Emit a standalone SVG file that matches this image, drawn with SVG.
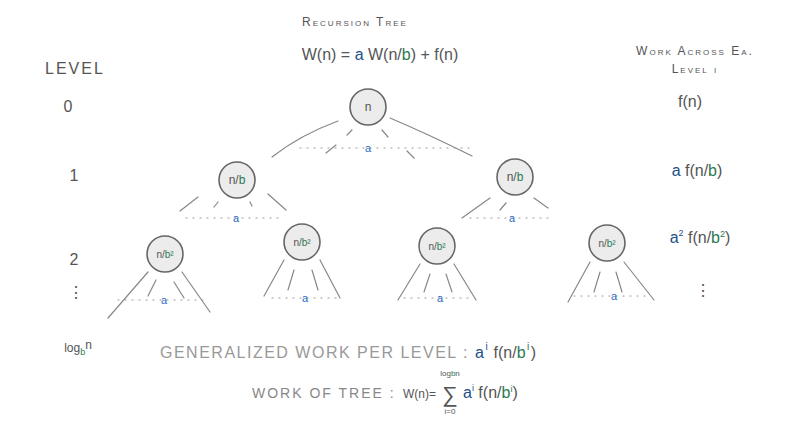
<svg xmlns="http://www.w3.org/2000/svg" width="800" height="435" viewBox="0 0 800 435">
<style>
text{font-family:"Liberation Sans",Arial,sans-serif;fill:#555}
.t{font-size:16px}
.s{font-size:12px}
.bl{fill:#2a6cc0}
.db{fill:#1e4f8a}
.gr{fill:#2b7a50}
.nd{fill:#ececec;stroke:#666;stroke-width:1.6}
.e{stroke:#888;stroke-width:1.2;fill:none;stroke-linecap:round}
.d{stroke:#999;stroke-width:1.2;fill:none;stroke-dasharray:1 6;stroke-linecap:round}
.sc{font-variant:small-caps;letter-spacing:2px}
</style>
<rect width="800" height="435" fill="#fff"/>
<text x="355" y="26" class="s sc" text-anchor="middle">Recursion Tree</text>
<text x="380" y="60" class="t" text-anchor="middle">W(n) = <tspan class="db">a</tspan> W(n/<tspan class="gr">b</tspan>) + f(n)</text>
<text x="45" y="74" class="t sc">LEVEL</text>
<text x="695" y="55" class="s sc" text-anchor="middle">Work Across Ea.</text>
<text x="695" y="73" class="s sc" text-anchor="middle">Level i</text>
<text x="68" y="112" class="t" text-anchor="middle">0</text>
<text x="74" y="181" class="t" text-anchor="middle">1</text>
<text x="74" y="265" class="t" text-anchor="middle">2</text>
<text x="76" y="298" class="t" text-anchor="middle">⋮</text>
<text x="78" y="352" class="s" text-anchor="middle">log<tspan class="gr" font-size="9" dy="3">b</tspan><tspan dy="-6">n</tspan></text>
<text x="690" y="107" class="t" text-anchor="middle">f(n)</text>
<text x="697" y="176" class="t" text-anchor="middle"><tspan class="db">a</tspan> f(n/<tspan class="gr">b</tspan>)</text>
<text x="700" y="243" class="t" text-anchor="middle"><tspan class="db">a<tspan font-size="9" dy="-7">2</tspan></tspan><tspan dy="7"> f(n/</tspan><tspan class="gr">b<tspan font-size="9" dy="-6">2</tspan></tspan><tspan dy="6">)</tspan></text>
<text x="703" y="296" class="t" text-anchor="middle">⋮</text>
<g id="connectors">
<path class="e" d="M338 121 Q300 135 272 157 M390 118 Q430 135 472 156 M352 130 L347 135 M382 130 L388 137 M336 145 L326 153 M407 151 L414 158"/>
<path class="d" d="M300 148 L470 148"/>
<path class="e" d="M198 197 L180 211 M268 194 L286 210 M218 202 L214 207 M250 202 L252 206"/>
<path class="d" d="M186 218 L282 218"/>
<path class="e" d="M490 198 L462 218 M534 198 L548 208 M506 203 L500 210"/>
<path class="d" d="M470 218 L548 218"/>
<path class="e" d="M148 272 L108 318 M182 272 L210 312 M156 280 L148 296 M174 282 L184 298"/>
<path class="d" d="M118 300 L206 300"/>
<path class="e" d="M284 260 L264 296 M320 260 L340 298 M294 270 L288 290 M312 270 L318 290"/>
<path class="d" d="M272 298 L338 298"/>
<path class="e" d="M420 264 L398 300 M454 264 L476 300 M430 274 L424 292 M446 274 L452 292"/>
<path class="d" d="M404 298 L472 298"/>
<path class="e" d="M590 262 L568 302 M624 262 L654 300 M600 272 L594 292 M616 272 L622 292"/>
<path class="d" d="M574 296 L650 296"/>
</g>
<g font-size="11" text-anchor="middle"><text x="368" y="152" class="bl">a</text><text x="236" y="222" class="bl">a</text><text x="512" y="222" class="bl">a</text><text x="164" y="304" class="bl">a</text><text x="305" y="302" class="bl">a</text><text x="440" y="302" class="bl">a</text><text x="614" y="300" class="bl">a</text></g>
<g id="n0"><circle class="nd" cx="368" cy="107" r="18"/><text x="368" y="111" class="s" text-anchor="middle">n</text></g>
<g id="n1"><circle class="nd" cx="237" cy="180" r="18"/><text x="237" y="184" class="s" text-anchor="middle">n/<tspan class="gr">b</tspan></text></g>
<g id="n2"><circle class="nd" cx="515" cy="177" r="18"/><text x="515" y="181" class="s" text-anchor="middle">n/<tspan class="gr">b</tspan></text></g>
<g id="n3"><circle class="nd" cx="165" cy="254" r="18"/><text x="165" y="258" font-size="10" text-anchor="middle">n/<tspan class="gr">b²</tspan></text></g>
<g id="n4"><circle class="nd" cx="302" cy="242" r="18"/><text x="302" y="246" font-size="10" text-anchor="middle">n/<tspan class="gr">b²</tspan></text></g>
<g id="n5"><circle class="nd" cx="437" cy="246" r="18"/><text x="437" y="250" font-size="10" text-anchor="middle">n/<tspan class="gr">b²</tspan></text></g>
<g id="n6"><circle class="nd" cx="607" cy="243" r="18"/><text x="607" y="247" font-size="10" text-anchor="middle">n/<tspan class="gr">b²</tspan></text></g>
<text x="160" y="358" font-size="16" style="fill:#999;letter-spacing:1.5px">GENERALIZED WORK PER LEVEL : <tspan class="db">a<tspan font-size="10" dy="-8">i</tspan></tspan><tspan dy="8" style="fill:#555;letter-spacing:0"> f(n/</tspan><tspan class="gr">b<tspan font-size="10" dy="-8">i</tspan></tspan><tspan dy="8" style="fill:#555">)</tspan></text>
<text x="252" y="398" font-size="14" style="fill:#888;letter-spacing:2px">WORK OF TREE :</text>
<text x="403" y="398" class="s">W(n)=</text>
<text x="450" y="402" font-size="22" text-anchor="middle">∑</text>
<text x="450" y="376" font-size="8" text-anchor="middle">log<tspan class="gr">b</tspan>n</text>
<text x="450" y="414" font-size="8" text-anchor="middle">i=0</text>
<text x="463" y="398" class="t"><tspan class="db">a<tspan font-size="9" dy="-7">i</tspan></tspan><tspan dy="7"> f(n/</tspan><tspan class="gr">b<tspan font-size="9" dy="-6">i</tspan></tspan><tspan dy="6">)</tspan></text>
</svg>
